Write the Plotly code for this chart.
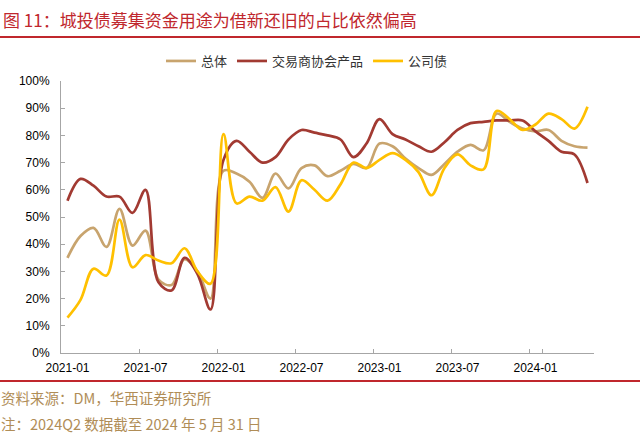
import plotly.graph_objects as go
import pandas as pd

months = [d.strftime("%Y-%m") for d in pd.date_range("2021-01-01", "2024-05-01", freq="MS")]

total = [35, 43, 46, 39, 53, 39.5, 45, 27, 25, 34.5, 30, 20,
         67, 66, 63, 57, 66, 60.5, 68, 69, 65, 67, 69.5, 68,
         77, 76, 71.5, 68, 65.5, 69.5, 74, 76.5, 74.5, 88, 85, 82.5,
         81.5, 82, 78, 76, 75.5]
nafmii = [56, 64, 61.5, 57.5, 57.5, 51.5, 60, 26, 23, 35, 29, 16,
          71, 78, 74, 70, 72, 78.5, 82, 81, 80, 78.5, 72, 77,
          86, 80.5, 78.5, 76, 74, 77.5, 82, 84.5, 85, 85.5, 85.5, 85.5,
          81.5, 78, 74, 73, 62.5]
corp = [13, 19.5, 31, 28.5, 49, 31.5, 36, 34, 33, 38.5, 30, 25.5,
        80.5, 55, 57.5, 56, 61, 52, 63.5, 60, 56, 62, 70, 68,
        71, 73.5, 71, 66.5, 58, 68, 73, 69, 67.5, 89, 86, 82,
        84, 88, 86, 82.5, 90.5]

series_names = ["总体", "交易商协会产品", "公司债"]
colors = ["#C8A46E", "#A23A32", "#FFC000"]

title_text = "图 11：城投债募集资金用途为借新还旧的占比依然偏高"
source_text = "资料来源：DM，华西证券研究所"
note_text = "注：2024Q2 数据截至 2024 年 5 月 31 日"

FONT = "Liberation Sans, Arial, Noto Sans CJK SC, sans-serif"
CJK = "Noto Sans CJK SC, Liberation Sans, sans-serif"

W, H = 640, 444
L, R, T, B = 61, 46, 81, 91
PW, PH = W - L - R, H - T - B

fig = go.Figure()
for name, vals, col in zip(series_names, [total, nafmii, corp], colors):
    fig.add_trace(go.Scatter(
        x=months, y=vals, name=name, mode="lines",
        line=dict(color=col, width=2.7, shape="spline", smoothing=1.0),
    ))

fig.update_layout(
    width=W, height=H,
    margin=dict(l=L, r=R, t=T, b=B, autoexpand=False),
    paper_bgcolor="white", plot_bgcolor="white",
    font=dict(family=FONT, size=12, color="#000000"),
    showlegend=True,
    legend=dict(orientation="h", x=(307 - L) / PW, xref="paper", xanchor="center",
                y=1 - 61 / H, yref="container", yanchor="middle",
                font=dict(family=CJK, size=13, color="#333333"),
                itemwidth=30, tracegroupgap=0, bgcolor="rgba(0,0,0,0)"),
    xaxis=dict(type="category", range=[-0.5, len(months) - 0.5],
               tickmode="array", tickvals=months[::6], ticktext=months[::6],
               tickson="boundaries", ticks="inside", ticklen=4, tickangle=0,
               ticklabelstandoff=4,
               tickcolor="#A6A6A6", showline=True, linecolor="#A6A6A6",
               linewidth=1, showgrid=False, zeroline=False, automargin=False,
               tickfont=dict(family=FONT, size=12, color="#000000")),
    yaxis=dict(range=[0, 100], dtick=10, ticksuffix="%", ticks="inside",
               ticklen=4, tickcolor="#A6A6A6", showline=True,
               ticklabelstandoff=8,
               linecolor="#A6A6A6", linewidth=1, showgrid=False,
               zeroline=False, automargin=False,
               tickfont=dict(family=FONT, size=12, color="#000000")),
)

def px_x(xp):
    return (xp - L) / PW

def px_y(yp):
    return (H - B - yp) / PH

fig.add_annotation(text=title_text, xref="paper", yref="paper",
                   x=px_x(1), y=px_y(20), xanchor="left",
                   yanchor="middle", showarrow=False,
                   font=dict(family=CJK, size=17, color="#C0272D"))
fig.add_annotation(text=source_text, xref="paper", yref="paper",
                   x=px_x(-1), y=px_y(397), xanchor="left",
                   yanchor="middle", showarrow=False,
                   font=dict(family=CJK, size=14.5, color="#B08D57"))
fig.add_annotation(text=note_text, xref="paper", yref="paper",
                   x=px_x(-1), y=px_y(423), xanchor="left",
                   yanchor="middle", showarrow=False,
                   font=dict(family=CJK, size=14.5, color="#B08D57"))

for ypix in (37, 381):
    fig.add_shape(type="line", xref="paper", yref="paper",
                  x0=px_x(0), x1=px_x(W), y0=px_y(ypix), y1=px_y(ypix),
                  line=dict(color="#C0272D", width=2))

fig.write_html("out.html",
               config={"displayModeBar": False},
               post_script="document.body.style.margin='0px';document.body.style.padding='0px';")
